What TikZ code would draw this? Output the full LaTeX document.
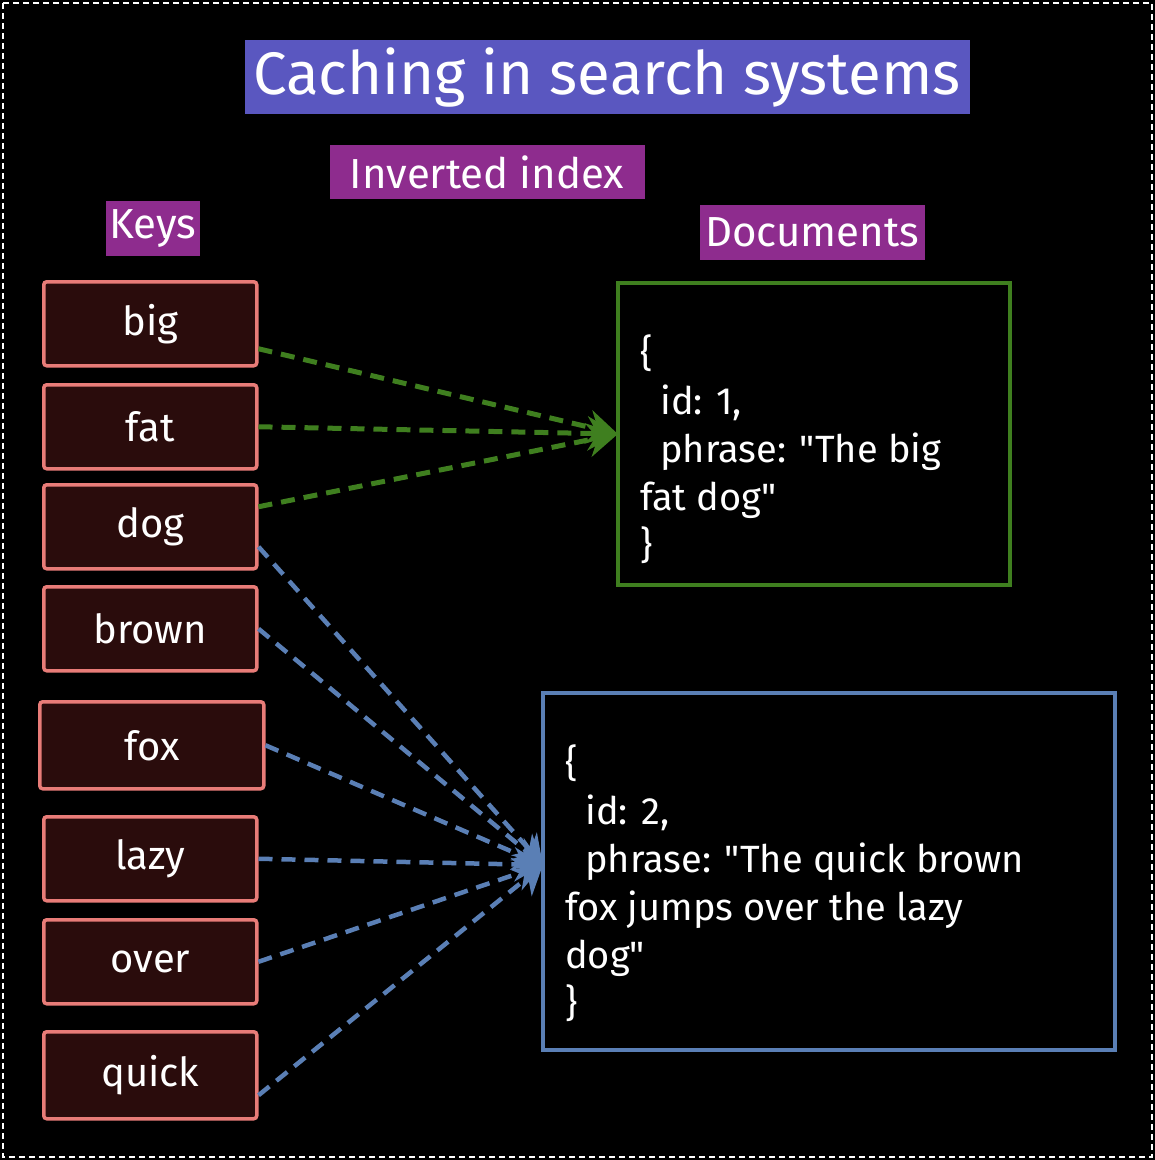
\documentclass[tikz,border=0pt]{standalone}
\usepackage{fontspec}
\setmainfont{Fira Sans}[Ligatures=TeXOff]
\usetikzlibrary{patterns,arrows.meta}
\definecolor{titlebg}{HTML}{5A57C0}
\definecolor{lblbg}{HTML}{8E2C8E}
\definecolor{keyc}{HTML}{E87C78}
\definecolor{keyfill}{HTML}{2A0C0C}
\definecolor{grn}{HTML}{3F7F1F}
\definecolor{blu}{HTML}{5A7FB5}
\begin{document}
\begin{tikzpicture}[x=1pt,y=-1pt,
  key/.style={draw=keyc,line width=3.5pt,fill=keyfill,rounded corners=3pt,minimum width=213pt,minimum height=84pt,text=white,font=\fontsize{40}{40}\selectfont,anchor=north west,inner sep=0pt},
  lbl/.style={fill=lblbg,text=white,inner sep=2pt,font=\fontsize{42}{44}\selectfont},
  doc/.style={text=white,anchor=north west,font=\fontsize{38}{48}\selectfont,align=left,inner sep=0pt},
  ga/.style={draw=grn,line width=5pt,dash pattern=on 14pt off 9pt,-{Stealth[length=30pt,width=34pt]}},
  ba/.style={draw=blu,line width=4.5pt,dash pattern=on 14pt off 9pt,-{Stealth[length=28pt,width=34pt]}}]
\useasboundingbox (0,0) rectangle (1155,1160);
\fill[black] (0,0) rectangle (1155,1160);
\draw[white,line width=1.5pt,dash pattern=on 6pt off 4pt] (3,3) rectangle (1152,1157);
\node[fill=titlebg,text=white,minimum width=725pt,minimum height=74pt,inner sep=0pt,font=\fontsize{60}{60}\selectfont] (title) at (607,77) {Caching in search systems};
\node[lbl,minimum width=315pt,minimum height=54pt] (inv) at (487,172) {Inverted index};
\node[lbl,minimum width=94pt,minimum height=55pt] (keys) at (153,228) {Keys};
\node[lbl,minimum width=225pt,minimum height=55pt] (docs) at (812,232) {Documents};
\node[key] (big) at (42,280) {big};
\node[key] (fat) at (42,383) {fat};
\node[key] (dog) at (42,483) {dog};
\node[key] (brown) at (42,585) {brown};
\node[key,minimum width=224pt,minimum height=87pt] (fox) at (38,700) {fox};
\node[key] (lazy) at (42,815) {lazy};
\node[key] (over) at (42,918) {over};
\node[key,minimum height=87pt] (quick) at (42,1030) {quick};
\draw[grn,line width=4pt,fill=black] (618,283) rectangle (1010,585);
\node[inner sep=0pt,minimum size=0pt] (d1) at (618,434) {};
\node[doc] (d1t) at (640,335) {\{\\\ \ id: 1,\\\ \ phrase: "The big\\fat dog"\\\}};
\draw[blu,line width=4pt,fill=black] (543,693) rectangle (1115,1050);
\node[inner sep=0pt,minimum size=0pt] (d2) at (543,865) {};
\node[doc] (d2t) at (565,745) {\{\\\ \ id: 2,\\\ \ phrase: "The quick brown\\fox jumps over the lazy\\dog"\\\}};
\draw[ga] (big.east) ++(0,25) -- (d1);
\draw[ga] (fat.east) -- (d1);
\draw[ga] (dog.east) ++(0,-20) -- (d1);
\draw[ba] (dog.east) ++(0,20) -- (d2);
\draw[ba] (brown.east) -- (d2);
\draw[ba] (fox.east) -- (d2);
\draw[ba] (lazy.east) -- (d2);
\draw[ba] (over.east) -- (d2);
\draw[ba] (quick.east) ++(0,20) -- (d2);
\end{tikzpicture}
\end{document}
